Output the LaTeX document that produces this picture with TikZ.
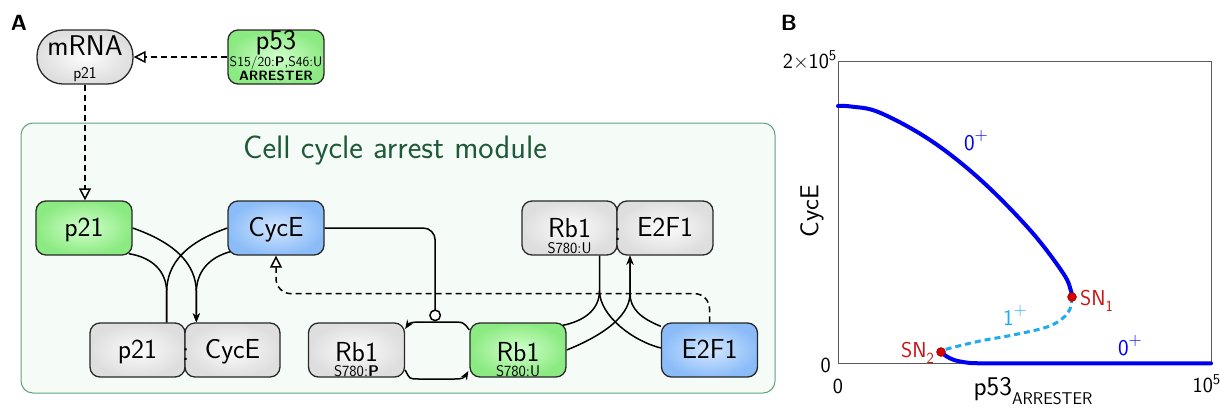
\documentclass[tikz,border=0pt]{standalone}
\usetikzlibrary{arrows.meta,calc}
\usepackage{graphicx}
\renewcommand{\familydefault}{\sfdefault}
\newcommand{\lowsub}[1]{\raisebox{-0.28em}{\scalebox{0.72}{#1}}}
\newcommand{\highplus}{\raisebox{0.42em}{\scalebox{0.8}{+}}}
\definecolor{gin}{RGB}{210,255,205}
\definecolor{gout}{RGB}{140,234,130}
\definecolor{bin}{RGB}{212,232,255}
\definecolor{bout}{RGB}{140,188,248}
\definecolor{yin}{RGB}{252,252,252}
\definecolor{yout}{RGB}{222,222,222}
\definecolor{modfill}{RGB}{245,252,248}
\definecolor{moddraw}{RGB}{95,160,125}
\definecolor{modtext}{RGB}{30,90,55}
\definecolor{edgec}{RGB}{40,40,40}
\definecolor{cblue}{RGB}{0,0,240}
\definecolor{clight}{RGB}{30,170,240}
\definecolor{cred}{RGB}{215,0,0}
\definecolor{credt}{RGB}{200,20,20}
\definecolor{axisc}{RGB}{90,90,90}
\begin{document}
\begin{tikzpicture}[x=1pt,y=-1pt,
  nbox/.style={draw=edgec, line width=1.3pt, rounded corners=10pt, minimum width=96pt, minimum height=54pt, inner sep=0pt, font=\fontsize{27.5}{30}\selectfont, text height=17pt, text depth=0pt},
  ngray/.style={nbox, shading=radial, inner color=yin, outer color=yout},
  ngreen/.style={nbox, shading=radial, inner color=gin, outer color=gout},
  nblue/.style={nbox, shading=radial, inner color=bin, outer color=bout},
  big/.style={anchor=base, inner sep=0pt, font=\fontsize{27.5}{30}\selectfont},
  small/.style={anchor=base, inner sep=0pt, font=\fontsize{15.5}{16}\selectfont},
  rx/.style={line width=1.5pt, draw=black},
  arr/.style={rx, -{Stealth[length=9pt,width=7pt]}},
  dasharr/.style={line width=1.5pt, dash pattern=on 6pt off 4pt, -{Triangle[length=12pt,width=12pt,fill=white]}},
  inh/.style={rx, -{Circle[length=12pt,fill=white]}},
  lab/.style={inner sep=0pt, font=\fontsize{22.5}{25}\selectfont},
  axlab/.style={inner sep=0pt, font=\fontsize{21.5}{24}\selectfont},
  panel/.style={inner sep=0pt, anchor=base, font=\fontsize{22}{24}\selectfont\bfseries}
]
\useasboundingbox (0,0) rectangle (1220,413);

% ---------- Panel A ----------
\node[panel] (labA) at (19,30) {A};

\node[draw=moddraw, fill=modfill, rounded corners=12pt, line width=1pt, minimum width=754pt, minimum height=270pt] (module) at (398,258) {};
\node[anchor=base, inner sep=0pt, text=modtext, font=\fontsize{32.5}{36}\selectfont] (title) at (395,158) {Cell cycle arrest module};

% mRNA and p53
\node[ngray, rounded corners=26pt] (mrna) at (85,57) {};
\node[big, font=\fontsize{28.5}{30}\selectfont] (mrnat) at ($(mrna.center)+(0,-2)$) {mRNA};
\node[small, font=\fontsize{16.5}{17}\selectfont] (mrnas) at ($(mrna.center)+(0,21)$) {p21};

\node[ngreen] (p53) at (276,57) {};
\node[big, font=\fontsize{28.5}{30}\selectfont] (p53t) at ($(p53.center)+(0,-8)$) {p53};
\node[anchor=base, inner sep=0pt, font=\fontsize{13.8}{14}\selectfont] (p53s) at ($(p53.center)+(0,9)$) {S15/20:\textbf{P},S46:U};
\node[anchor=base, inner sep=0pt, font=\fontsize{13.5}{14}\selectfont\bfseries] (p53a) at ($(p53.center)+(0,23)$) {ARRESTER};

% module species
\node[ngreen] (p21) at (84,228) {p21};
\node[nblue] (cyce) at (276,228) {CycE};

\node[ngray, minimum width=95pt] (cx1) at (137.5,350) {p21};
\node[ngray, minimum width=95pt] (cx2) at (232.5,350) {CycE};
\node[big] (cxc) at ($(cx1.east)+(0,10)$) {:};

\node[ngray] (rbp) at (356.5,350) {};
\node[big] (rbpt) at ($(rbp.center)+(0,11)$) {Rb1};
\node[small] (rbps) at ($(rbp.center)+(0,26.5)$) {S780:\textbf{P}};

\node[ngreen] (rbu) at (518,350) {};
\node[big] (rbut) at ($(rbu.center)+(0,11)$) {Rb1};
\node[small] (rbus) at ($(rbu.center)+(0,26.5)$) {S780:U};

\node[nblue] (e2f1) at (709.5,350) {E2F1};

\node[ngray, minimum width=95pt] (rx1) at (569.5,228) {};
\node[ngray, minimum width=96pt] (rx2) at (665,228) {E2F1};
\node[big] (rx1t) at ($(rx1.center)+(0,9)$) {Rb1};
\node[small] (rx1s) at ($(rx1.center)+(0,25)$) {S780:U};
\node[big] (rxc) at ($(rx1.east)+(0,12)$) {:};

% dashed regulatory arrows
\draw[dasharr] (p53.west) -- (mrna.east);
\draw[dasharr] (mrna.south) -- (mrna.south |- p21.north);
\draw[dasharr, rounded corners=15pt] (e2f1.north) |- ($(cyce.south)+(0,38)$) -- (cyce.south);

% p21 + CycE <-> p21:CycE
\coordinate (jc) at ($(cx1.north east)+(-19,0)$);
\coordinate (jd) at ($(cx2.north west)+(12,0)$);
\draw[arr] (p21.east) .. controls +(40,14) and +(0,-30) .. ($(jd)+(0,-30)$) -- (jd);
\draw[arr] ($(cyce.south west)+(3,-4)$) .. controls +(-22,6) and +(0,-20) .. ($(jd)+(0,-30)$) -- (jd);
\draw[rx] (cyce.west) .. controls +(-40,14) and +(0,-30) .. ($(jc)+(0,-30)$) -- (jc);
\draw[rx] ($(p21.south east)+(-4,-2)$) .. controls +(25,4) and +(0,-20) .. ($(jc)+(0,-30)$) -- (jc);

% Rb1 phosphorylation cycle
\draw[arr] ($(rbu.west)+(0,-20)$) .. controls +(-6,-8) and +(15,0) .. ($(rbu.west)+(-20,-28)$) -- ($(rbp.east)+(15,-28)$) .. controls +(-8,0) and +(4,-6) .. ($(rbp.east)+(0,-21)$);
\draw[arr] ($(rbp.east)+(0,20)$) .. controls +(5,9) and +(-12,0) .. ($(rbp.east)+(15,29)$) -- ($(rbu.west)+(-15,29)$) .. controls +(8,0) and +(-4,7) .. ($(rbu.west)+(-1,21)$);

% CycE inhibits
\coordinate (ci) at ($(rbp.north east)+(30,-1)$);
\draw[inh, rounded corners=12pt] (cyce.east) -| (ci);

% Rb1 + E2F1 <-> Rb1:E2F1
\coordinate (ja) at ($(rx1.south)+(30,0)$);
\coordinate (jb) at ($(rx2.south)+(-35,0)$);
\draw[rx] (ja) -- ++(0,35) .. controls +(0,20) and +(20,-4) .. ($(rbu.north east)+(-4,3)$);
\draw[rx] ($(ja)+(0,35)$) .. controls +(0,25) and +(-28,-7) .. ($(e2f1.west)+(0,-2)$);
\draw[arr] (rbu.east) .. controls +(30,-12) and +(0,25) .. ($(jb)+(0,38)$) -- (jb);
\draw[arr] ($(e2f1.north west)+(0,4)$) .. controls +(-20,-8) and +(0,15) .. ($(jb)+(0,38)$) -- (jb);

% ---------- Panel B ----------
\node[panel] (labB) at (789,30) {B};
\coordinate (ax0) at (838,363);
\coordinate (ax1) at (1211,61);
\draw[axisc, line width=0.9pt] (ax0) rectangle (ax1);

\node[axlab, anchor=base east] (ytop) at (837,68) {2\texttimes10\textsuperscript{5}};
\node[axlab, anchor=base east] (ybot) at (831,372) {0};
\node[axlab, anchor=base] (xlft) at (838,393) {0};
\node[axlab, anchor=base east] (xrgt) at (1221,392) {10\textsuperscript{5}};
\node[inner sep=0pt, rotate=90, font=\fontsize{26}{28}\selectfont] (ylab) at (812,211) {CycE};
\node[anchor=base, inner sep=0pt, font=\fontsize{27}{30}\selectfont] (xlab) at (1033,395) {p53\raisebox{-0.36em}{\fontsize{17}{18}\selectfont ARRESTER}};

\draw[cblue, line width=4pt, line cap=round] plot[smooth, tension=0.6] coordinates {(838,106) (852,106.6) (880,112.7) (930,140) (980,179.3) (1030,230) (1063,273) (1071,291) (1072,297)};
\draw[clight, line width=3pt, dash pattern=on 6pt off 4pt] plot[smooth, tension=0.6] coordinates {(1072,297) (1070,309) (1063,318) (1047,327) (1013,335) (980,341) (947,349) (941,352)};
\draw[cblue, line width=4pt, line cap=round] plot[smooth, tension=0.5] coordinates {(941,352) (946,356) (954,360) (967,362.6) (985,363.3) (1100,363.3) (1211,363.3)};

\node[circle, fill=cred, draw=red!50!black, line width=0.4pt, inner sep=0pt, minimum size=9pt] (sn1) at (1072,297) {};
\node[circle, fill=cred, draw=red!50!black, line width=0.4pt, inner sep=0pt, minimum size=9pt] (sn2) at (941,352) {};
\node[lab, anchor=base west, text=credt, font=\fontsize{21.5}{24}\selectfont] (sn1t) at (1080,305) {SN\lowsub{1}};
\node[lab, anchor=base east, text=credt, font=\fontsize{21.5}{24}\selectfont] (sn2t) at (934,357) {SN\lowsub{2}};

\node[lab, anchor=base, text=cblue] (z1) at (976,150) {0\highplus};
\node[lab, anchor=base, text=clight] (o1) at (1015,325) {1\highplus};
\node[lab, anchor=base, text=cblue] (z2) at (1130,355) {0\highplus};
\end{tikzpicture}
\end{document}
